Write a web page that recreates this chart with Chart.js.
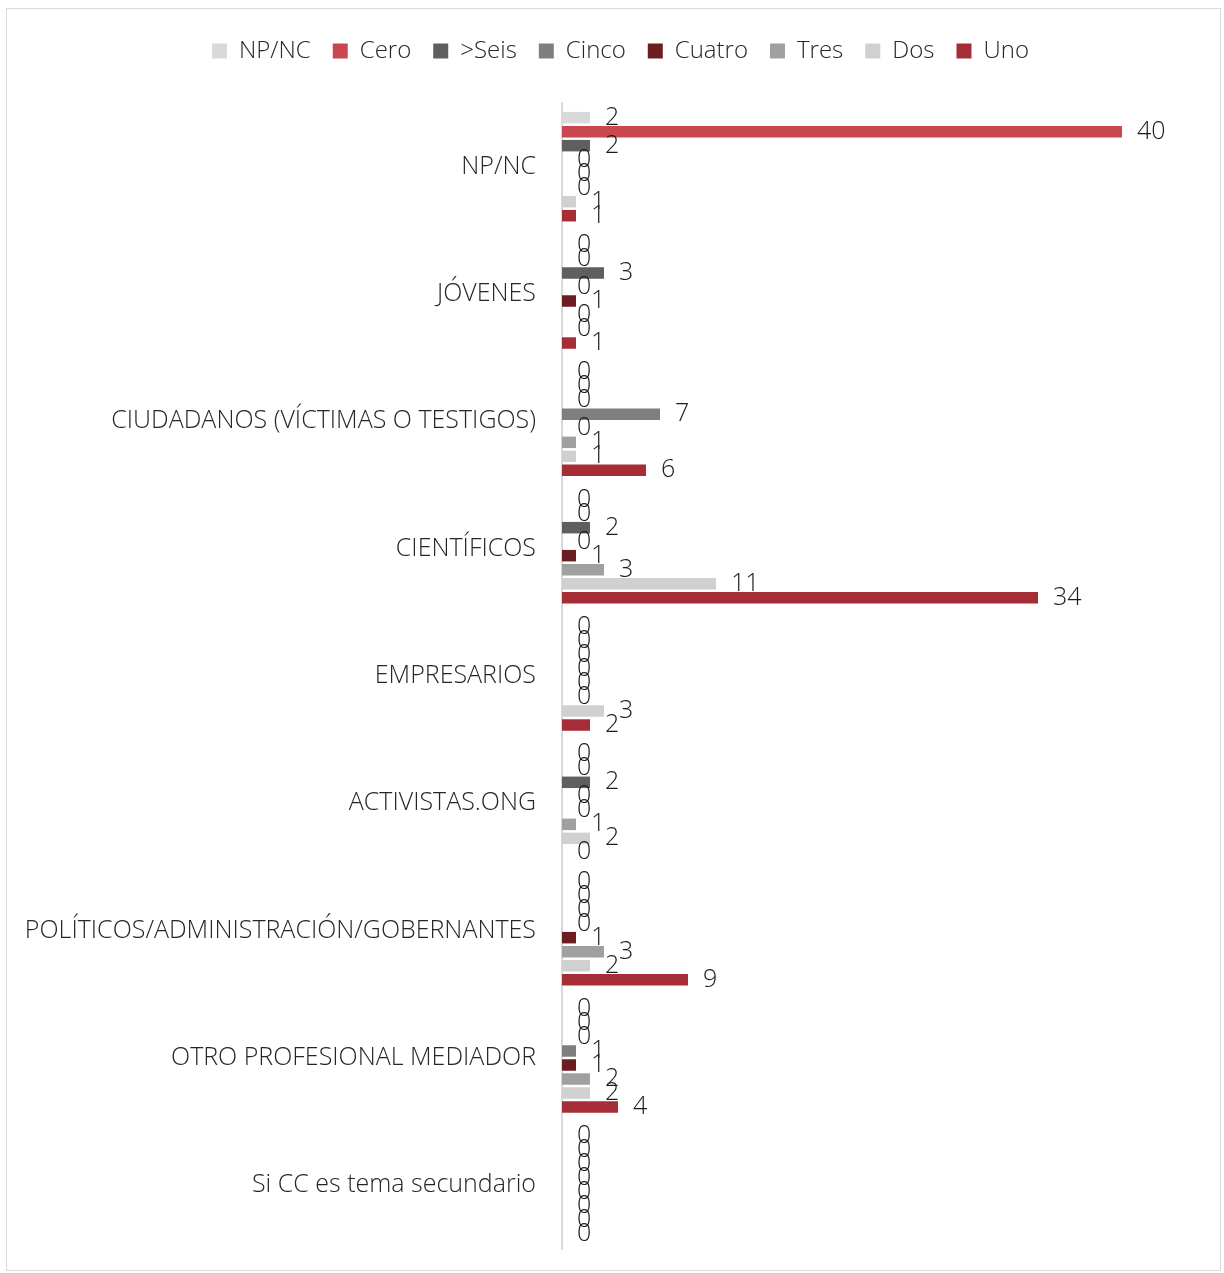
<!DOCTYPE html>
<html lang="es">
  <head>
    <meta charset="UTF-8" />
    <title>Fuentes por tipo</title>
    <style>
      * {
        margin: 0;
        padding: 0;
        box-sizing: border-box;
      }
      body {
        background: #ffffff;
        width: 1224px;
        height: 1273px;
      }
      .chartBox {
        position: absolute;
        left: 6px;
        top: 8px;
        width: 1215px;
        height: 1263px;
        border: 1px solid #d9d9d9;
        background: white;
      }
    </style>
  </head>
  <body>
    <div class="chartBox">
      <canvas id="myChart" width="1213" height="1261"></canvas>
    </div>

    <script src="https://cdn.jsdelivr.net/npm/chart.js"></script>

    <script>
      const categories = [
        "NP/NC",
        "JÓVENES",
        "CIUDADANOS (VÍCTIMAS O TESTIGOS)",
        "CIENTÍFICOS",
        "EMPRESARIOS",
        "ACTIVISTAS.ONG",
        "POLÍTICOS/ADMINISTRACIÓN/GOBERNANTES",
        "OTRO PROFESIONAL MEDIADOR",
        "Si CC es tema secundario",
      ];

      const seriesNames = ["NP/NC", "Cero", ">Seis", "Cinco", "Cuatro", "Tres", "Dos", "Uno"];
      const seriesColors = ["#d9d9d9", "#c9474f", "#5f5f5f", "#7f7f7f", "#6b1d22", "#a0a0a0", "#d0d0d0", "#a52e36"];

      const npnc = [2, 0, 0, 0, 0, 0, 0, 0, 0];
      const cero = [40, 0, 0, 0, 0, 0, 0, 0, 0];
      const seis = [2, 3, 0, 2, 0, 2, 0, 0, 0];
      const cinco = [0, 0, 7, 0, 0, 0, 0, 1, 0];
      const cuatro = [0, 1, 0, 1, 0, 0, 1, 1, 0];
      const tres = [0, 0, 1, 3, 0, 1, 3, 2, 0];
      const dos = [1, 0, 1, 11, 3, 2, 2, 2, 0];
      const uno = [1, 1, 6, 34, 2, 0, 9, 4, 0];

      const seriesValues = [npnc, cero, seis, cinco, cuatro, tres, dos, uno];

      const FONT = "'Open Sans', 'DejaVu Sans', sans-serif";

      // extra room under the legend
      const legendSpacer = {
        id: "legendSpacer",
        beforeInit(chart) {
          const fit = chart.legend.fit;
          chart.legend.fit = function () {
            fit.bind(chart.legend)();
            this.height += 30;
          };
        },
      };

      const valueLabels = {
        id: "valueLabels",
        afterDatasetsDraw(chart) {
          const { ctx } = chart;
          ctx.save();
          ctx.font = "300 25px " + FONT;
          ctx.fillStyle = "#1a1a1a";
          ctx.textAlign = "left";
          ctx.textBaseline = "middle";
          chart.data.datasets.forEach((ds, i) => {
            const meta = chart.getDatasetMeta(i);
            meta.data.forEach((bar, j) => {
              ctx.fillText(String(ds.data[j]), bar.x + 15, bar.y);
            });
          });
          ctx.restore();
        },
      };

      const ctx = document.getElementById("myChart");
      const myChart = new Chart(ctx, {
        type: "bar",
        data: {
          labels: categories,
          datasets: seriesNames.map((name, i) => ({
            label: name,
            data: seriesValues[i],
            backgroundColor: seriesColors[i],
            borderWidth: 0,
            barPercentage: 0.82,
            categoryPercentage: 0.88,
          })),
        },
        options: {
          indexAxis: "y",
          responsive: false,
          animation: false,
          layout: {
            padding: { left: 14, right: 0, top: 8, bottom: 21 },
          },
          scales: {
            x: {
              display: false,
              min: 0,
              max: 47,
            },
            y: {
              grid: { display: false },
              border: { display: true, color: "#d9d9d9", width: 2 },
              ticks: {
                color: "#262626",
                padding: 18,
                font: { family: FONT, size: 25, weight: "300" },
              },
              afterFit(scale) {
                scale.width = 541;
                scale.paddingTop = 0;
                scale.paddingBottom = 0;
              },
            },
          },
          plugins: {
            legend: {
              position: "top",
              labels: {
                boxWidth: 15,
                boxHeight: 15,
                padding: 22,
                color: "#262626",
                font: { family: FONT, size: 24, weight: "300" },
              },
            },
            tooltip: { enabled: false },
          },
        },
        plugins: [legendSpacer, valueLabels],
      });
    </script>
  </body>
</html>
